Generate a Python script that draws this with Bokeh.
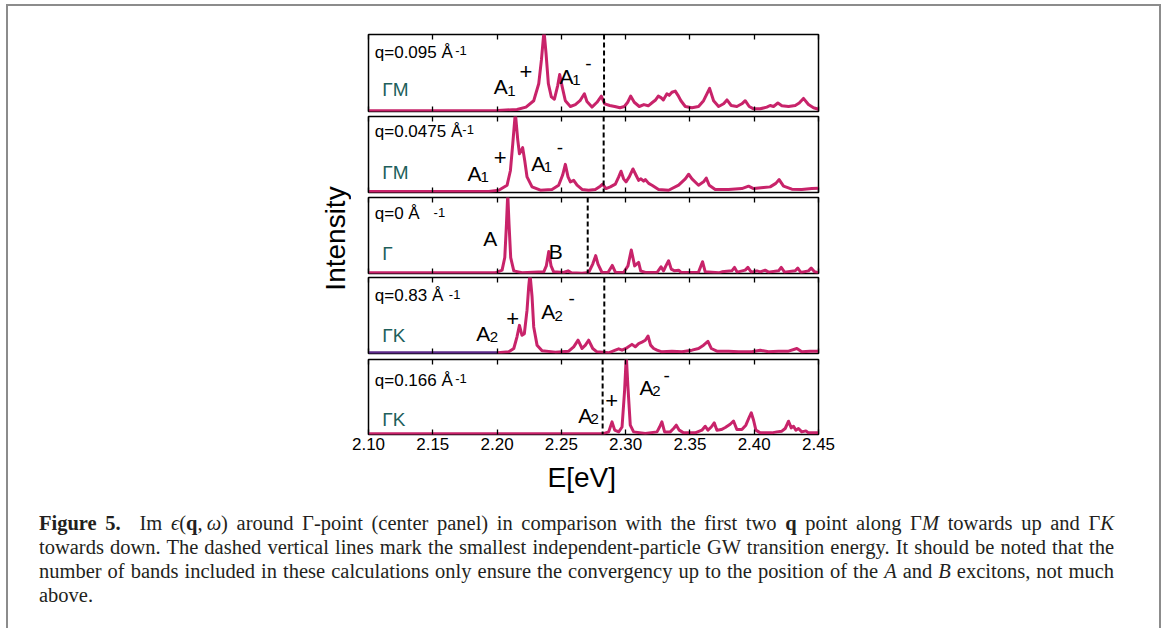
from math import pi
from bokeh.plotting import figure
from bokeh.layouts import column, row
from bokeh.models import (Range1d, FixedTicker, Label, Span, Div,
                          CustomJSTickFormatter, LinearAxis)
from bokeh.embed import file_html
from bokeh.resources import INLINE

# ---------------- data ----------------
E_RANGE = (2.10, 2.45)
TICKS = [2.10, 2.15, 2.20, 2.25, 2.30, 2.35, 2.40, 2.45]
TICK_LABELS = ["2.10", "2.15", "2.20", "2.25", "2.30", "2.35", "2.40", "2.45"]

# panel 1: q = 0.095 along GM
P1_E = [2.1000, 2.2005, 2.2155, 2.2225, 2.2285, 2.2324, 2.2345, 2.2365, 2.2381, 2.2399,
        2.2422, 2.2446, 2.2472, 2.2487, 2.2508, 2.2531, 2.2570, 2.2609, 2.2645, 2.2679,
        2.2699, 2.2738, 2.2777, 2.2811, 2.2837, 2.2876, 2.2915, 2.2956, 2.2990, 2.3016,
        2.3039, 2.3067, 2.3106, 2.3142, 2.3176, 2.3210, 2.3233, 2.3254, 2.3275, 2.3293,
        2.3321, 2.3339, 2.3360, 2.3386, 2.3407, 2.3430, 2.3464, 2.3516, 2.3567, 2.3606,
        2.3632, 2.3653, 2.3684, 2.3723, 2.3762, 2.3788, 2.3821, 2.3865, 2.3904, 2.3930,
        2.3961, 2.3995, 2.4047, 2.4098, 2.4124, 2.4150, 2.4184, 2.4215, 2.4267, 2.4319,
        2.4350, 2.4383, 2.4422, 2.4461, 2.4500]
P1_I = [0.010, 0.013, 0.026, 0.057, 0.14, 0.36, 0.67, 1.05, 0.75, 0.36,
        0.19, 0.16, 0.34, 0.48, 0.31, 0.14, 0.065, 0.09, 0.14, 0.23,
        0.13, 0.057, 0.12, 0.20, 0.10, 0.078, 0.065, 0.048, 0.065, 0.12,
        0.20, 0.12, 0.065, 0.09, 0.074, 0.12, 0.15, 0.20, 0.18, 0.15,
        0.23, 0.21, 0.25, 0.265, 0.21, 0.14, 0.065, 0.048, 0.065, 0.14,
        0.23, 0.30, 0.14, 0.065, 0.10, 0.15, 0.078, 0.065, 0.10, 0.14,
        0.065, 0.035, 0.035, 0.057, 0.078, 0.065, 0.11, 0.074, 0.065, 0.078,
        0.11, 0.17, 0.09, 0.048, 0.030]

# panel 2: q = 0.0475 along GM
P2_E = [2.1000, 2.1935, 2.2013, 2.2078, 2.2104, 2.2122, 2.2142, 2.2161, 2.2174, 2.2187,
        2.2199, 2.2215, 2.2233, 2.2272, 2.2337, 2.2427, 2.2479, 2.2510, 2.2531, 2.2552,
        2.2570, 2.2596, 2.2622, 2.2661, 2.2712, 2.2764, 2.2803, 2.2821, 2.2847, 2.2881,
        2.2920, 2.2946, 2.2964, 2.2984, 2.3003, 2.3028, 2.3057, 2.3080, 2.3101, 2.3119,
        2.3140, 2.3153, 2.3179, 2.3205, 2.3256, 2.3334, 2.3412, 2.3464, 2.3490, 2.3516,
        2.3567, 2.3606, 2.3627, 2.3650, 2.3697, 2.3801, 2.3904, 2.3956, 2.3995, 2.4073,
        2.4124, 2.4168, 2.4194, 2.4228, 2.4293, 2.4370, 2.4448, 2.4500]
P2_I = [0.013, 0.013, 0.030, 0.096, 0.29, 0.64, 1.05, 0.69, 0.51, 0.55,
        0.59, 0.42, 0.205, 0.074, 0.030, 0.040, 0.096, 0.23, 0.37, 0.205,
        0.14, 0.16, 0.096, 0.040, 0.030, 0.040, 0.083, 0.11, 0.052, 0.074,
        0.11, 0.205, 0.28, 0.18, 0.14, 0.205, 0.31, 0.23, 0.16, 0.18,
        0.15, 0.17, 0.12, 0.096, 0.040, 0.030, 0.096, 0.18, 0.24, 0.18,
        0.096, 0.14, 0.19, 0.096, 0.040, 0.040, 0.052, 0.083, 0.052, 0.066,
        0.074, 0.12, 0.17, 0.083, 0.044, 0.040, 0.052, 0.057]

# panel 3: q = 0 (Gamma)
P3_E = [2.1000, 2.1987, 2.2039, 2.2060, 2.2073, 2.2083, 2.2093, 2.2106, 2.2130, 2.2194,
        2.2363, 2.2383, 2.2402, 2.2420, 2.2440, 2.2518, 2.2552, 2.2578, 2.2661, 2.2712,
        2.2744, 2.2767, 2.2785, 2.2816, 2.2863, 2.2896, 2.2920, 2.2984, 2.3018, 2.3044,
        2.3070, 2.3101, 2.3117, 2.3153, 2.3244, 2.3275, 2.3295, 2.3313, 2.3334, 2.3355,
        2.3381, 2.3412, 2.3433, 2.3567, 2.3598, 2.3619, 2.3723, 2.3749, 2.3826, 2.3847,
        2.3868, 2.3930, 2.3951, 2.3977, 2.4021, 2.4047, 2.4085, 2.4111, 2.4189, 2.4210,
        2.4236, 2.4319, 2.4339, 2.4363, 2.4422, 2.4443, 2.4469, 2.4500]
P3_I = [0.009, 0.009, 0.044, 0.21, 0.65, 1.05, 0.65, 0.21, 0.035, 0.009,
        0.022, 0.10, 0.29, 0.10, 0.022, 0.013, 0.035, 0.009, 0.004, 0.013,
        0.124, 0.235, 0.124, 0.013, 0.013, 0.106, 0.018, 0.013, 0.10, 0.31,
        0.10, 0.146, 0.035, 0.013, 0.013, 0.088, 0.035, 0.10, 0.168, 0.058,
        0.035, 0.044, 0.013, 0.018, 0.155, 0.022, 0.009, 0.022, 0.035, 0.08,
        0.018, 0.044, 0.08, 0.018, 0.035, 0.022, 0.044, 0.018, 0.035, 0.08,
        0.018, 0.035, 0.071, 0.013, 0.035, 0.071, 0.022, 0.009]

# panel 4: q = 0.83 along GK
P4_E = [2.2005, 2.2091, 2.2130, 2.2155, 2.2174, 2.2194, 2.2212, 2.2233, 2.2246, 2.2256,
        2.2272, 2.2285, 2.2311, 2.2350, 2.2453, 2.2557, 2.2596, 2.2630, 2.2661, 2.2687,
        2.2712, 2.2744, 2.2777, 2.2868, 2.2920, 2.2946, 2.2972, 2.3010, 2.3049, 2.3075,
        2.3101, 2.3127, 2.3153, 2.3174, 2.3194, 2.3218, 2.3244, 2.3282, 2.3360, 2.3438,
        2.3516, 2.3567, 2.3606, 2.3640, 2.3666, 2.3710, 2.3801, 2.3878, 2.3982, 2.4047,
        2.4111, 2.4189, 2.4267, 2.4332, 2.4370, 2.4435, 2.4500]
P4_I = [0.009, 0.022, 0.066, 0.22, 0.37, 0.24, 0.26, 0.57, 0.88, 1.05,
        0.75, 0.35, 0.11, 0.035, 0.018, 0.031, 0.088, 0.175, 0.066, 0.11,
        0.175, 0.066, 0.022, 0.009, 0.044, 0.061, 0.044, 0.075, 0.12, 0.088,
        0.13, 0.15, 0.175, 0.23, 0.11, 0.066, 0.044, 0.022, 0.031, 0.022,
        0.044, 0.066, 0.11, 0.16, 0.066, 0.031, 0.031, 0.022, 0.022, 0.044,
        0.022, 0.031, 0.031, 0.066, 0.022, 0.031, 0.031]
P4_LOW_E = [2.1000, 2.2005]
P4_LOW_I = [0.009, 0.009]

# panel 5: q = 0.166 along GK
P5_E = [2.1000, 2.2821, 2.2868, 2.2894, 2.2915, 2.2946, 2.2972, 2.2992, 2.3005, 2.3018,
        2.3036, 2.3062, 2.3153, 2.3244, 2.3264, 2.3282, 2.3303, 2.3347, 2.3373, 2.3394,
        2.3417, 2.3451, 2.3541, 2.3593, 2.3619, 2.3640, 2.3666, 2.3689, 2.3710, 2.3744,
        2.3775, 2.3813, 2.3839, 2.3865, 2.3904, 2.3935, 2.3961, 2.3977, 2.3995, 2.4013,
        2.4047, 2.4137, 2.4176, 2.4215, 2.4241, 2.4267, 2.4288, 2.4306, 2.4324, 2.4344,
        2.4370, 2.4402, 2.4422, 2.4461, 2.4500]
P5_I = [0.009, 0.009, 0.035, 0.168, 0.058, 0.035, 0.10, 0.59, 1.05, 0.63,
        0.124, 0.035, 0.013, 0.035, 0.10, 0.168, 0.035, 0.035, 0.08, 0.124,
        0.058, 0.022, 0.022, 0.058, 0.11, 0.058, 0.10, 0.155, 0.058, 0.066,
        0.093, 0.137, 0.18, 0.066, 0.066, 0.124, 0.23, 0.29, 0.19, 0.058,
        0.022, 0.022, 0.035, 0.044, 0.08, 0.177, 0.088, 0.11, 0.058, 0.08,
        0.035, 0.048, 0.022, 0.022, 0.022]

# smallest independent-particle GW transition energy per panel
GW_EDGE = [2.2832, 2.2829, 2.2705, 2.2834, 2.2821]
Q_TEXT = ["q=0.095 Å", "q=0.0475 Å", "q=0 Å", "q=0.83 Å", "q=0.166 Å"]
Q_UNIT = "-1"
DIRECTION = ["ΓM", "ΓM", "Γ", "ΓK", "ΓK"]

# ---------------- style / layout ----------------
MAGENTA = "#c8236a"
TEAL = "#1e5f5c"
PURPLE = "#5c2a8a"
FONT = "Liberation Sans"
NBSP = "\u00a0"

# (text, x, y, size, baseline) annotation placements per panel
ANNOT = [
    [("A", 2.1975, 0.325, 21, "alphabetic"), ("1", 2.2079, 0.264, 15, "alphabetic"),
     ("+", 2.2175, 0.523, 22, "middle"),
     ("A", 2.2486, 0.455, 21, "alphabetic"), ("1", 2.2584, 0.403, 15, "alphabetic"),
     ("-", 2.2685, 0.619, 19, "middle")],
    [("A", 2.1770, 0.246, 21, "alphabetic"), ("1", 2.1871, 0.200, 15, "alphabetic"),
     ("+", 2.1975, 0.465, 22, "middle"),
     ("A", 2.2265, 0.386, 21, "alphabetic"), ("1", 2.2364, 0.333, 15, "alphabetic"),
     ("-", 2.2465, 0.596, 19, "middle")],
    [("A", 2.1892, 0.465, 21, "alphabetic"), ("B", 2.2402, 0.289, 21, "alphabetic")],
    [("A", 2.1838, 0.259, 21, "alphabetic"), ("2", 2.1944, 0.215, 15, "alphabetic"),
     ("+", 2.2072, 0.456, 22, "middle"),
     ("A", 2.2343, 0.553, 21, "alphabetic"), ("2", 2.2447, 0.500, 15, "alphabetic"),
     ("-", 2.2555, 0.720, 19, "middle")],
    [("A", 2.2631, 0.253, 21, "alphabetic"), ("2", 2.2727, 0.209, 15, "alphabetic"),
     ("+", 2.2842, 0.453, 22, "middle"),
     ("A", 2.3108, 0.623, 21, "alphabetic"), ("2", 2.3207, 0.578, 15, "alphabetic"),
     ("-", 2.3294, 0.787, 19, "middle")],
]
Q_POS = [(0.640, 2.1675, 0.736), (0.675, 2.1730, 0.772), (0.662, 2.1506, 0.750),
         (0.632, 2.1625, 0.720), (0.596, 2.1675, 0.689)]
DIR_POS = [0.143, 0.122, 0.127, 0.105, 0.063]
HEIGHTS = [108, 81, 80, 81, 150]
BORDERS = [(28, 3), (2, 3), (2, 2), (2, 3), (3, 72)]
LEFT_W = 343
PANEL_BORDER_L = 17


def make_axis(labeled):
    ax = LinearAxis(ticker=FixedTicker(ticks=TICKS), major_tick_in=5, major_tick_out=0,
                    minor_tick_line_color=None, axis_line_color=None,
                    major_tick_line_color="black", major_tick_line_width=1.3)
    if labeled:
        ax.formatter = CustomJSTickFormatter(args=dict(tv=TICKS, lab=TICK_LABELS), code="""
            let b = 0;
            for (let i = 0; i < tv.length; i++) {
                if (Math.abs(tv[i] - tick) < Math.abs(tv[b] - tick)) b = i;
            }
            return lab[b];""")
        ax.major_label_text_font = FONT
        ax.major_label_text_font_size = "17px"
        ax.major_label_text_color = "black"
        ax.major_label_standoff = 3
        ax.axis_label = "E[eV]" + NBSP * 3
        ax.axis_label_text_font = FONT
        ax.axis_label_text_font_size = "28px"
        ax.axis_label_text_font_style = "normal"
        ax.axis_label_text_color = "black"
        ax.axis_label_standoff = 9
    else:
        ax.formatter = CustomJSTickFormatter(code="return ''")
        ax.major_label_text_font_size = "0px"
        ax.major_label_standoff = 0
    return ax


def make_panel(k, e, inten):
    top, bottom = BORDERS[k]
    last = (k == 4)
    p = figure(width=450 + PANEL_BORDER_L + 20, height=HEIGHTS[k],
               x_range=Range1d(*E_RANGE), y_range=Range1d(0, 1),
               output_backend="svg", toolbar_location=None,
               x_axis_location=None, y_axis_location=None,
               min_border_left=PANEL_BORDER_L, min_border_right=20,
               min_border_top=top, min_border_bottom=bottom)
    p.xgrid.visible = False
    p.ygrid.visible = False
    p.outline_line_color = "black"
    p.outline_line_width = 1.5
    p.outline_line_alpha = 1.0
    p.add_layout(make_axis(False), "above")
    p.add_layout(make_axis(last), "below")
    if k == 3:
        p.line(P4_LOW_E, P4_LOW_I, line_color=PURPLE, line_width=3)
    p.line(e, inten, line_color=MAGENTA, line_width=3, line_join="round")
    p.add_layout(Span(location=GW_EDGE[k], dimension="height", line_color="black",
                      line_width=2, line_dash="5 3"))
    qy, ux, uy = Q_POS[k]
    p.add_layout(Label(x=2.1049, y=qy, text=Q_TEXT[k], text_font=FONT,
                       text_font_size="17px", text_color="black"))
    p.add_layout(Label(x=ux, y=uy, text=Q_UNIT, text_font=FONT,
                       text_font_size="13px", text_color="black"))
    p.add_layout(Label(x=2.1107, y=DIR_POS[k], text=DIRECTION[k], text_font=FONT,
                       text_font_size="19px", text_color=TEAL))
    for (t, x, y, s, bl) in ANNOT[k]:
        p.add_layout(Label(x=x, y=y, text=t, text_font=FONT, text_font_size=f"{s}px",
                           text_color="black", text_baseline=bl))
    return p


SERIES = [(P1_E, P1_I), (P2_E, P2_I), (P3_E, P3_I), (P4_E, P4_I), (P5_E, P5_I)]
panels = [make_panel(k, e, i) for k, (e, i) in enumerate(SERIES)]
panel_col = column(*panels, spacing=0)

left = figure(width=LEFT_W, height=500, x_range=Range1d(0, LEFT_W), y_range=Range1d(0, 500),
              output_backend="svg", toolbar_location=None,
              x_axis_location=None, y_axis_location=None, min_border=0)
left.xgrid.visible = False
left.ygrid.visible = False
left.outline_line_color = None
left.add_layout(Label(x=LEFT_W - 1, y=268, text="Intensity", angle=pi / 2, text_align="center",
                      text_baseline="bottom", text_font=FONT, text_font_size="28px",
                      text_color="black"))

LINE = ("width:1075px;text-align:justify;text-align-last:justify;"
        "white-space:nowrap;height:24px;")
caption_html = (
    "<div style=\"font-family:'Liberation Serif',serif;font-size:20.5px;line-height:24px;"
    "color:#231f20;padding:5px 0 0 31px;\">"
    f"<div style=\"{LINE}\"><b>Figure 5.</b>&ensp; Im <i>&#x3F5;</i>(<b>q</b>,&thinsp;<i>&omega;</i>) "
    "around &Gamma;-point (center panel) in comparison with the first two <b>q</b> point along "
    "&Gamma;<i>M</i> towards up and &Gamma;<i>K</i></div>"
    f"<div style=\"{LINE}\">towards down. The dashed vertical lines mark the smallest "
    "independent-particle GW transition energy. It should be noted that the</div>"
    f"<div style=\"{LINE}\">number of bands included in these calculations only ensure the "
    "convergency up to the position of the <i>A</i> and <i>B</i> excitons, not much</div>"
    "<div style=\"white-space:nowrap;height:24px;\">above.</div>"
    "</div>"
)
caption = Div(text=caption_html, width=1151, height=122, margin=0)

root = column(row(left, panel_col, spacing=0), caption, spacing=0,
              margin=(4, 4, 0, 6),
              styles={"border-top": "2px solid #8c8c8c",
                      "border-left": "2px solid #8c8c8c",
                      "border-right": "2px solid #8c8c8c"})

open("out.html", "w").write(file_html(root, INLINE))
